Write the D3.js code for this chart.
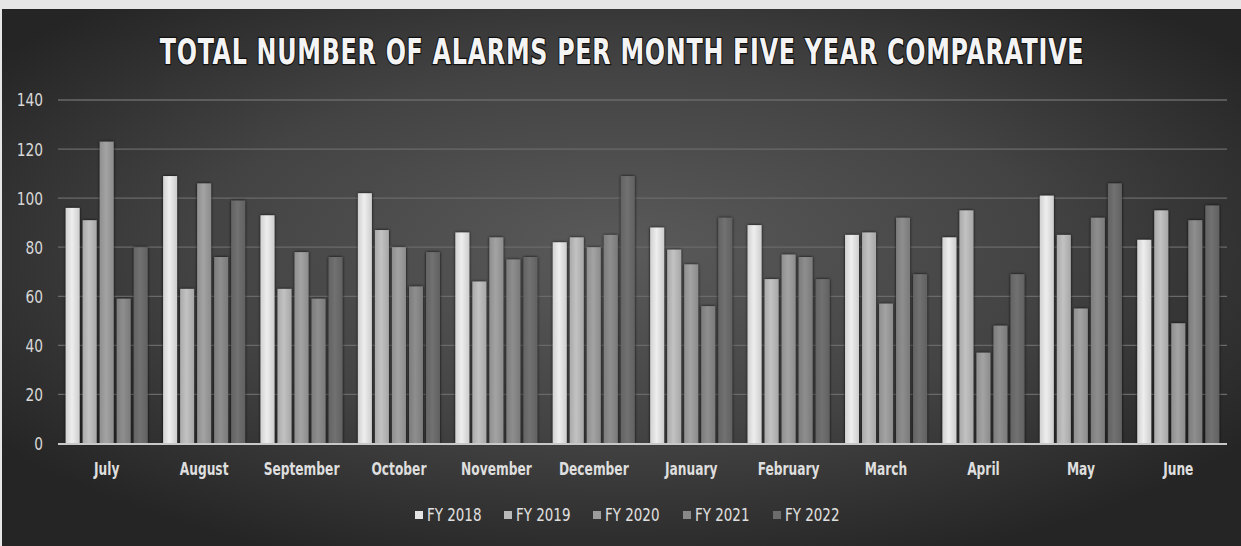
<!DOCTYPE html>
<html>
<head>
<meta charset="utf-8">
<script src="https://cdn.jsdelivr.net/npm/d3@7"></script>
<style>
  html, body { margin: 0; padding: 0; background: #e8e8e8; }
  svg { display: block; }
  text { font-family: "DejaVu Sans Condensed", "Liberation Sans Narrow", sans-serif; }
</style>
</head>
<body>
<svg id="chart" width="1241" height="546"></svg>
<script>
const months = ["July","August","September","October","November","December","January","February","March","April","May","June"];
const seriesNames = ["FY 2018","FY 2019","FY 2020","FY 2021","FY 2022"];
const fy2018 = [96,109,93,102,86,82,88,89,85,84,101,83];
const fy2019 = [91,63,63,87,66,84,79,67,86,95,85,95];
const fy2020 = [123,106,78,80,84,80,73,77,57,37,55,49];
const fy2021 = [59,76,59,64,75,85,56,76,92,48,92,91];
const fy2022 = [80,99,76,78,76,109,92,67,69,69,106,97];
const yTicks = [0,20,40,60,80,100,120,140];
const titleText = "TOTAL NUMBER OF ALARMS PER MONTH FIVE YEAR COMPARATIVE";

const series = [fy2018, fy2019, fy2020, fy2021, fy2022];
const colors = ["#e4e4e4","#bababa","#9c9c9c","#888888","#6c6c6c"];

const W = 1241, H = 546;
const svg = d3.select("#chart");
const defs = svg.append("defs");

const bg = defs.append("radialGradient").attr("id","bg")
  .attr("cx","50%").attr("cy","45%").attr("r","62%");
bg.append("stop").attr("offset","0%").attr("stop-color","#5a5a5a");
bg.append("stop").attr("offset","55%").attr("stop-color","#434343");
bg.append("stop").attr("offset","100%").attr("stop-color","#252525");

colors.forEach((c, i) => {
  const g = defs.append("linearGradient").attr("id","bar"+i)
    .attr("x1","0").attr("x2","1").attr("y1","0").attr("y2","0");
  const cc = d3.color(c);
  g.append("stop").attr("offset","0%").attr("stop-color", cc.darker(0.25));
  g.append("stop").attr("offset","45%").attr("stop-color", cc.brighter(0.12));
  g.append("stop").attr("offset","100%").attr("stop-color", cc.darker(0.3));
});

const shadow = defs.append("filter").attr("id","shadow").attr("x","-30%").attr("y","-10%").attr("width","160%").attr("height","120%");
shadow.append("feDropShadow").attr("dx",0).attr("dy",0).attr("stdDeviation",1.6).attr("flood-color","#000").attr("flood-opacity",0.9);

svg.append("rect").attr("x",0).attr("y",0).attr("width",W).attr("height",H).attr("fill","#e6e6e6");
svg.append("rect").attr("x",2).attr("y",9).attr("width",W-2).attr("height",H-9).attr("fill","url(#bg)");

const margin = {left: 58, right: 14};
const plotW = W - margin.left - margin.right;
const y = d3.scaleLinear().domain([0,140]).range([443.5, 100]);
const x0 = d3.scaleBand().domain(months).range([margin.left, margin.left + plotW]).padding(0);
const x1 = d3.scaleBand().domain(d3.range(5)).range([7.7, x0.bandwidth() - 7.7]).paddingInner(0.18);

svg.append("g").selectAll("line").data(yTicks.filter(t => t > 0)).join("line")
  .attr("x1", margin.left).attr("x2", margin.left + plotW)
  .attr("y1", d => y(d)).attr("y2", d => y(d))
  .attr("stroke", "#6a6a6a").attr("stroke-width", 1.3);

const yAxis = d3.axisLeft(y).tickValues(yTicks).tickSize(0).tickPadding(0);
const ya = svg.append("g").attr("transform", `translate(43,0)`).call(yAxis);
ya.select(".domain").remove();
ya.selectAll("text").attr("fill","#d8d8d8").attr("font-size",17).attr("dy","0.35em")
  .attr("transform","scale(0.9,1)");

const groups = svg.append("g").selectAll("g").data(months).join("g")
  .attr("transform", d => `translate(${x0(d)},0)`);
groups.selectAll("rect").data((m, mi) => series.map((s, si) => ({si, v: s[mi]}))).join("rect")
  .attr("x", d => x1(d.si))
  .attr("width", x1.bandwidth())
  .attr("y", d => y(d.v))
  .attr("height", d => y(0) - y(d.v))
  .attr("fill", d => `url(#bar${d.si})`)
  .attr("filter", "url(#shadow)");

svg.append("line").attr("x1", margin.left).attr("x2", margin.left + plotW)
  .attr("y1", y(0)+0.5).attr("y2", y(0)+0.5).attr("stroke","#c8c8c8").attr("stroke-width",1.8);

const xAxis = d3.axisBottom(x0).tickSize(0).tickPadding(0);
const xa = svg.append("g").attr("transform", `translate(0,469)`).call(xAxis);
xa.select(".domain").remove();
xa.selectAll(".tick text").attr("fill","#dedede").attr("font-size",17).attr("font-weight","bold").attr("dy","0.35em")
  .attr("transform","scale(0.8,1)");

// title: natural width measured, then scaled horizontally to the reference width
const tg = svg.append("g");
const title = tg.append("text").attr("x", 0).attr("y", 0)
  .attr("text-anchor","middle")
  .attr("fill","#f4f4f4").attr("font-size",36).attr("font-weight","bold")
  .attr("letter-spacing", 1)
  .attr("stroke","#111").attr("stroke-width",2.5).attr("paint-order","stroke")
  .text(titleText);
const natW = title.node().getComputedTextLength();
tg.attr("transform", `translate(622,64) scale(${925 / natW},1)`);

const legendX = [415, 504, 593, 683, 773];
const lg = svg.append("g").selectAll("g").data(seriesNames).join("g")
  .attr("transform", (d, i) => `translate(${legendX[i]},515)`);
lg.append("rect").attr("x",0).attr("y",-4).attr("width",8).attr("height",8)
  .attr("fill", (d, i) => colors[i]);
lg.append("text").attr("x",12/0.88).attr("y",0).attr("dy","0.35em")
  .attr("transform","scale(0.88,1)")
  .attr("fill","#e0e0e0").attr("font-size",17).text(d => d);
</script>
</body>
</html>
